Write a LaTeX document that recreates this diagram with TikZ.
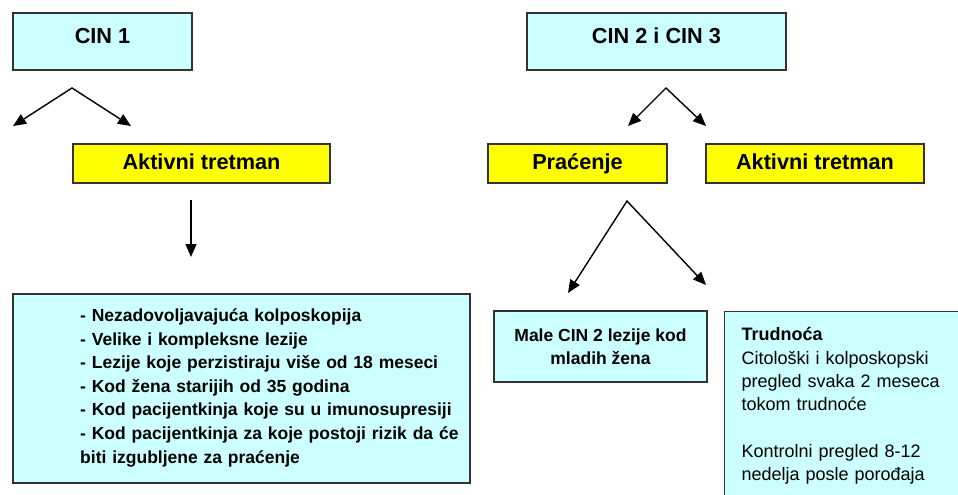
\documentclass[tikz,border=0pt]{standalone}
\usepackage{fontspec}
\setmainfont{Liberation Sans}
\usetikzlibrary{arrows.meta}

\definecolor{cinblue}{HTML}{CCFFFF}
\definecolor{cinyellow}{HTML}{FFFF00}
\definecolor{cinborder}{HTML}{333333}

\begin{document}
\begin{tikzpicture}[x=1pt,y=-1pt,
    headbox/.style={draw=cinborder,line width=1.2pt,fill=cinblue,minimum height=57pt,
      font=\fontsize{21.7}{26}\selectfont\bfseries,text height=15pt,text depth=11pt},
    choicebox/.style={draw=cinborder,line width=1.2pt,fill=cinyellow,minimum height=39pt,
      font=\fontsize{21.7}{26}\selectfont\bfseries,text height=15pt,text depth=4pt},
    infobox/.style={draw=cinborder,line width=1.2pt,fill=cinblue},
    splitarrow/.style={{Triangle[length=13pt,width=11pt]}-{Triangle[length=13pt,width=11pt]},line width=1.4pt},
    downarrow/.style={-{Triangle[length=13pt,width=11pt]},line width=1.4pt}]
  \useasboundingbox (0,0) rectangle (958,495);

  \node[headbox,minimum width=179pt] (cin1) at (102.5,41.5) {CIN 1};
  \node[headbox,minimum width=259pt] (cin23) at (656.5,41.5) {CIN 2 i CIN 3};

  \node[choicebox,minimum width=257pt] (tretman1) at (201.5,163.5) {Aktivni tretman};
  \node[choicebox,minimum width=179pt] (pracenje) at (577.5,163.5) {Praćenje};
  \node[choicebox,minimum width=218pt] (tretman23) at (815,163.5) {Aktivni tretman};

  \coordinate (cin1split) at (72,88);
  \coordinate (cin1left) at (13,126);
  \coordinate (cin1right) at (131,126);
  \coordinate (cin23split) at (666,88);
  \coordinate (cin23left) at (628,126);
  \coordinate (cin23right) at (706,126);
  \coordinate (pracsplit) at (627,201);
  \coordinate (pracleft) at (568,293);
  \coordinate (pracright) at (706,285);
  \coordinate (tretmantop) at (191,200);
  \coordinate (tretmanbottom) at (191,257);

  \draw[splitarrow] (cin1left) -- (cin1split) -- (cin1right);
  \draw[splitarrow] (cin23left) -- (cin23split) -- (cin23right);
  \draw[splitarrow] (pracleft) -- (pracsplit) -- (pracright);
  \draw[downarrow] (tretmantop) -- (tretmanbottom);

  \node[infobox,minimum width=457pt,minimum height=189pt] (indikacije) at (241.5,388.5) {};
  \node[anchor=north west,inner sep=0pt,text width=385pt,align=left,
    font=\fontsize{17.5}{23.6}\selectfont\bfseries] (indikacijetekst) at (80,308.5)
    {- Nezadovoljavajuća kolposkopija\\
     - Velike i kompleksne lezije\\
     - Lezije koje perzistiraju više od 18 meseci\\
     - Kod žena starijih od 35 godina\\
     - Kod pacijentkinja koje su u imunosupresiji\\
     - Kod pacijentkinja za koje postoji rizik da će\\
     biti izgubljene za praćenje};

  \node[infobox,minimum width=213pt,minimum height=71pt,align=center,
    font=\fontsize{17.5}{22.7}\selectfont\bfseries] (malecin) at (600.5,346.5)
    {Male CIN 2 lezije kod\\mladih žena};

  \begin{scope}
    \clip (0,0) rectangle (958,495);
    \node[infobox,anchor=north west,inner xsep=17pt,inner ysep=16pt,text width=215pt,align=left,
      font=\fontsize{18}{23.3}\selectfont] (trudnoca) at (724,311)
      {\textbf{Trudnoća}\\
       Citološki i kolposkopski\\
       pregled svaka 2 meseca\\
       tokom trudnoće\\[23.3pt]
       Kontrolni pregled 8-12\\
       nedelja posle porođaja};
  \end{scope}

\end{tikzpicture}
\end{document}
